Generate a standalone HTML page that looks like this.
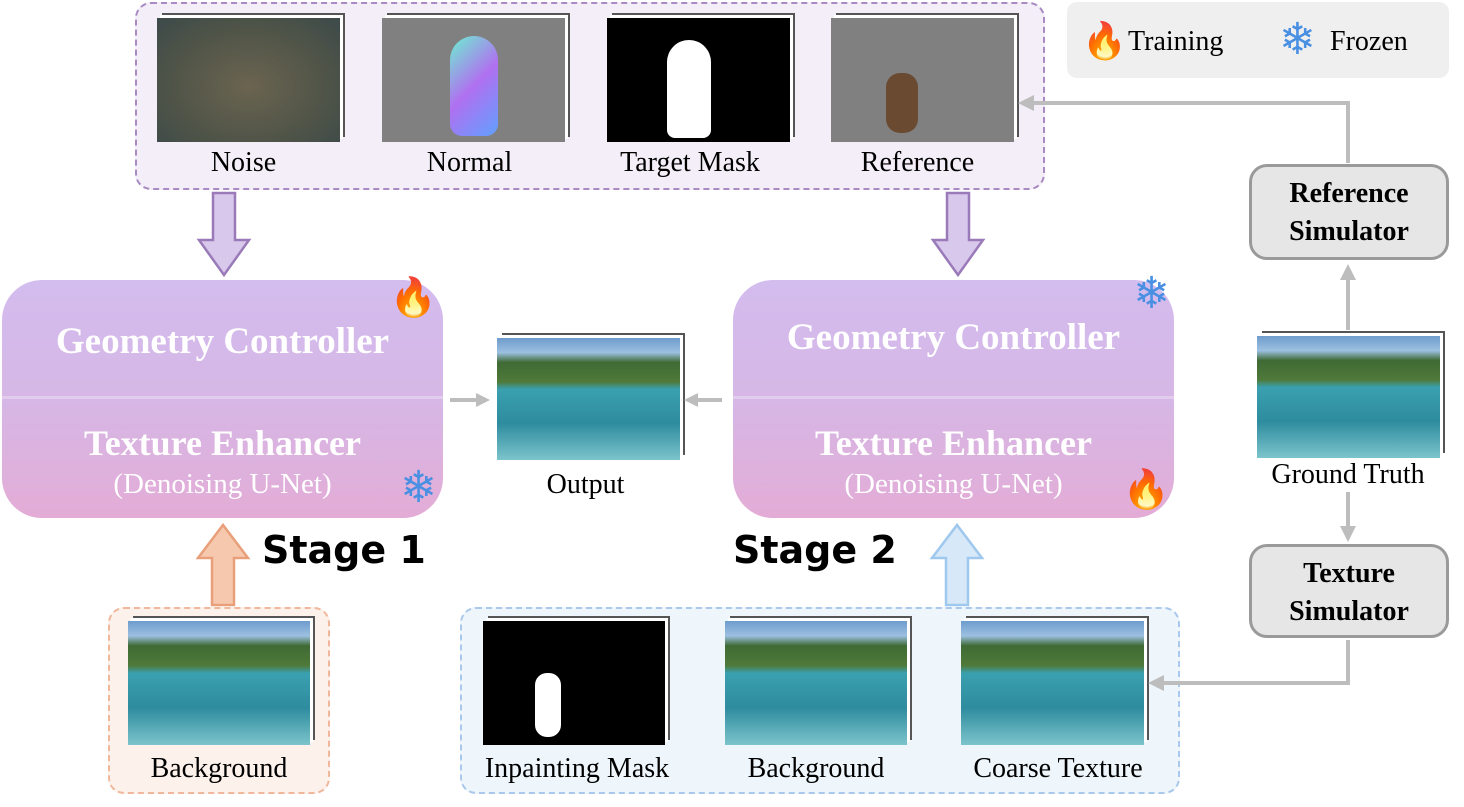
<!DOCTYPE html>
<html><head><meta charset="utf-8"><style>
body{margin:0;width:1464px;height:807px;background:#fff;position:relative;overflow:hidden;font-family:"Liberation Serif",serif}
.a{position:absolute}
.lbl{position:absolute;font-size:28px;color:#000;text-align:center;white-space:nowrap;font-family:"Liberation Serif",serif}
.img{position:absolute;box-shadow:3px -3px 0 #fff,5px -5px 0 #555;}
.scene{background:linear-gradient(180deg,#6e9ccc 0%,#9cc0e0 12%,#3f6a34 20%,#4f7a3a 36%,#3aa0b0 42%,#2e8c9e 70%,#7cc4cc 100%)}
.box{position:absolute;border-radius:40px;background:linear-gradient(180deg,#d3bcee 0%,#d6b7e6 50%,#e3acd6 100%)}
.box .t{position:absolute;left:0;right:0;text-align:center;color:#fff;font-weight:bold;font-family:"Liberation Serif",serif}
.sim{position:absolute;background:#e6e6e6;border:3px solid #9a9a9a;border-radius:18px;font-weight:bold;font-size:28px;text-align:center;line-height:38px;box-sizing:border-box}
.stage{position:absolute;font-family:"DejaVu Sans","Liberation Sans",sans-serif;font-weight:bold;font-size:38px}
</style></head><body>
<!-- top dashed -->
<div class="a" style="left:135px;top:2px;width:906px;height:184px;border:2.5px dashed #a98ac2;border-radius:16px;background:#f3eef7"></div>
<div class="img" style="left:157px;top:18px;width:183px;height:124px;background:radial-gradient(ellipse at 50% 55%,#6b6450,#4f5448 60%,#3c4a4a)"></div>
<div class="img" style="left:382px;top:18px;width:183px;height:124px;background:#808080"><div class="a" style="left:68px;top:18px;width:48px;height:100px;border-radius:24px 24px 12px 12px;background:linear-gradient(135deg,#6cf0d0,#b070f0,#60a0ff)"></div></div>
<div class="img" style="left:607px;top:18px;width:183px;height:124px;background:#000"><div class="a" style="left:60px;top:22px;width:44px;height:98px;border-radius:22px 22px 8px 8px;background:#fff"></div></div>
<div class="img" style="left:831px;top:18px;width:183px;height:124px;background:#808080"><div class="a" style="left:55px;top:55px;width:32px;height:60px;border-radius:14px;background:#6a4a30"></div></div>
<div class="lbl" style="left:152px;width:183px;top:147px">Noise</div>
<div class="lbl" style="left:378px;width:183px;top:147px">Normal</div>
<div class="lbl" style="left:585px;width:210px;top:147px">Target Mask</div>
<div class="lbl" style="left:826px;width:183px;top:147px">Reference</div>
<!-- legend -->
<div class="a" style="left:1067px;top:2px;width:382px;height:76px;background:#efefef;border-radius:10px"></div>
<div class="a" style="left:1082px;top:20px;font-size:36px;color:#e8702a">🔥</div>
<div class="lbl" style="left:1128px;top:26px">Training</div>
<div class="a" style="left:1279px;top:14px;font-size:44px;color:#4a90e2">❄</div>
<div class="lbl" style="left:1330px;top:26px">Frozen</div>
<!-- stage boxes -->
<div class="box" style="left:2px;top:280px;width:441px;height:238px">
<div class="a" style="left:0;right:0;top:116px;height:3px;background:rgba(255,255,255,.3)"></div>
<div class="t" style="top:40px;font-size:37px">Geometry Controller</div>
<div class="t" style="top:142px;font-size:36px">Texture Enhancer</div>
<div class="t" style="top:188px;font-size:29px;font-weight:normal">(Denoising U-Net)</div>
<div class="a" style="right:6px;top:-4px;font-size:38px">🔥</div>
<div class="a" style="right:6px;top:182px;font-size:44px;color:#4a90e2">❄</div>
</div>
<div class="box" style="left:733px;top:280px;width:441px;height:238px">
<div class="a" style="left:0;right:0;top:116px;height:3px;background:rgba(255,255,255,.3)"></div>
<div class="t" style="top:36px;font-size:37px">Geometry Controller</div>
<div class="t" style="top:142px;font-size:36px">Texture Enhancer</div>
<div class="t" style="top:188px;font-size:29px;font-weight:normal">(Denoising U-Net)</div>
<div class="a" style="right:4px;top:-12px;font-size:44px;color:#4a90e2">❄</div>
<div class="a" style="right:4px;top:188px;font-size:38px">🔥</div>
</div>
<div class="stage" style="left:262px;top:528px">Stage 1</div>
<div class="stage" style="left:733px;top:528px">Stage 2</div>
<!-- output -->
<div class="img scene" style="left:497px;top:338px;width:183px;height:122px"></div>
<div class="lbl" style="left:494px;width:183px;top:469px">Output</div>
<!-- ground truth -->
<div class="img scene" style="left:1257px;top:336px;width:183px;height:122px"></div>
<div class="lbl" style="left:1240px;width:216px;top:459px">Ground Truth</div>
<div class="sim" style="left:1249px;top:164px;width:200px;height:96px;padding-top:8px">Reference<br>Simulator</div>
<div class="sim" style="left:1249px;top:544px;width:200px;height:94px;padding-top:8px">Texture<br>Simulator</div>
<!-- bottom left -->
<div class="a" style="left:108px;top:607px;width:218px;height:183px;border:2.5px dashed #f0b79a;border-radius:16px;background:#fdf1eb"></div>
<div class="img scene" style="left:128px;top:621px;width:182px;height:124px"></div>
<div class="lbl" style="left:108px;width:222px;top:753px">Background</div>
<!-- bottom right -->
<div class="a" style="left:460px;top:607px;width:716px;height:183px;border:2.5px dashed #a9c8ec;border-radius:16px;background:#eef6fb"></div>
<div class="img" style="left:483px;top:621px;width:182px;height:124px;background:#000"><div class="a" style="left:52px;top:52px;width:26px;height:64px;border-radius:12px;background:#fff"></div></div>
<div class="img scene" style="left:725px;top:621px;width:182px;height:124px"></div>
<div class="img scene" style="left:961px;top:621px;width:183px;height:124px"></div>
<div class="lbl" style="left:460px;width:234px;top:753px">Inpainting Mask</div>
<div class="lbl" style="left:716px;width:200px;top:753px">Background</div>
<div class="lbl" style="left:950px;width:216px;top:753px">Coarse Texture</div>
<!-- arrows svg -->
<svg class="a" style="left:0;top:0" width="1464" height="807">
<g fill="#d8c8ec" stroke="#9a7ab8" stroke-width="2.5">
<polygon points="213,193 235,193 235,240 249,240 224,275 199,240 213,240"/>
<polygon points="947,193 969,193 969,240 983,240 958,275 933,240 947,240"/>
</g>
<polygon points="212,605 234,605 234,558 248,558 223,525 198,558 212,558" fill="#f6c9ae" stroke="#e9a07a" stroke-width="2.5"/>
<polygon points="946,605 968,605 968,558 982,558 957,525 932,558 946,558" fill="#d7e9f9" stroke="#9fc8ee" stroke-width="2.5"/>
<g stroke="#bdbdbd" stroke-width="4" fill="none">
<polyline points="1348,163 1348,103 1030,103"/>
<line x1="1348" y1="330" x2="1348" y2="278"/>
<line x1="1348" y1="492" x2="1348" y2="528"/>
<polyline points="1348,640 1348,683 1162,683"/>
<line x1="450" y1="400" x2="478" y2="400"/>
<line x1="722" y1="400" x2="696" y2="400"/>
</g>
<g fill="#bdbdbd">
<polygon points="1018,103 1034,95 1034,111"/>
<polygon points="1348,264 1340,280 1356,280"/>
<polygon points="1348,542 1340,526 1356,526"/>
<polygon points="1148,683 1164,675 1164,691"/>
<polygon points="490,400 476,393 476,407"/>
<polygon points="684,400 698,393 698,407"/>
</g>
</svg>
</body></html>
